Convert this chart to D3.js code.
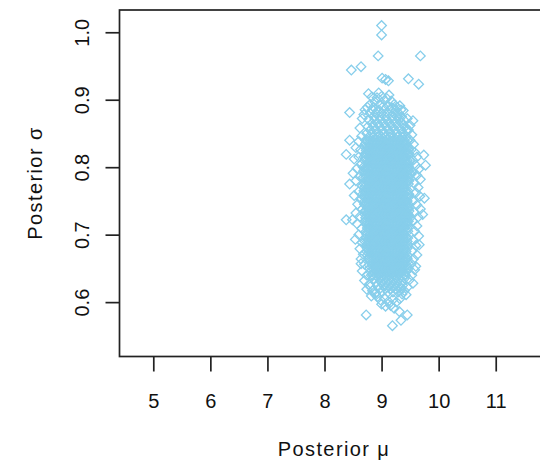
<!DOCTYPE html>
<html><head><meta charset="utf-8">
<script src="https://cdn.jsdelivr.net/npm/d3@7"></script>
<style>html,body{margin:0;padding:0;background:#fff;} svg{display:block;}</style>
</head><body>
<svg id="chart" width="540" height="462"></svg>
<script>
// ---- data ----
const xTicks = [5, 6, 7, 8, 9, 10, 11];
const yTicks = [0.6, 0.7, 0.8, 0.9, 1.0];
const xTitle = "Posterior μ";
const yTitle = "Posterior σ";

// dense core of posterior draws, read row by row (sigma level -> mu values)
const coreSigma = [0.885,0.880,0.875,0.870,0.865,0.860,0.855,0.850,0.845,0.840,0.835,0.830,0.825,0.820,0.815,0.810,0.805,0.800,0.795,0.790,0.785,0.780,0.775,0.770,0.765,0.760,0.755,0.750,0.745,0.740,0.735,0.730,0.725,0.720,0.715,0.710,0.705,0.700,0.695,0.690,0.685,0.680,0.675,0.670,0.665,0.660,0.655,0.650,0.645,0.640,0.635,0.630,0.625,0.620,0.615];
const coreMu = [
[8.84,8.95,9.05,9.16,9.25],
[8.80,8.90,9.00,9.11,9.21,9.30],
[8.86,8.96,9.06,9.17,9.27,9.35],
[8.78,8.88,8.99,9.10,9.20,9.31,9.39],
[8.83,8.93,9.04,9.14,9.25,9.35],
[8.76,8.86,8.97,9.08,9.19,9.29,9.41],
[8.80,8.90,9.01,9.12,9.23,9.34,9.44],
[8.74,8.84,8.94,9.05,9.16,9.27,9.38],
[8.78,8.86,8.93,9.00,9.07,9.14,9.21,9.29,9.36,9.44],
[8.72,8.75,8.80,8.85,8.90,8.95,9.00,9.05,9.10,9.15,9.20,9.25,9.30,9.35,9.40,9.45],
[8.72,8.78,8.83,8.88,8.93,8.98,9.03,9.08,9.13,9.18,9.23,9.28,9.33,9.38,9.43],
[8.71,8.75,8.80,8.85,8.90,8.95,9.00,9.05,9.10,9.15,9.20,9.25,9.30,9.35,9.40,9.46],
[8.73,8.78,8.83,8.88,8.93,8.98,9.03,9.08,9.13,9.18,9.23,9.28,9.33,9.38,9.43,9.47],
[8.71,8.75,8.80,8.85,8.90,8.95,9.00,9.05,9.10,9.15,9.20,9.25,9.30,9.35,9.40,9.45,9.48],
[8.69,8.72,8.77,8.82,8.87,8.92,8.97,9.02,9.07,9.12,9.17,9.22,9.27,9.32,9.37,9.42],
[8.70,8.75,8.80,8.85,8.90,8.95,9.00,9.05,9.10,9.15,9.20,9.25,9.30,9.35,9.40,9.45,9.49],
[8.78,8.83,8.88,8.93,8.98,9.03,9.08,9.13,9.18,9.23,9.28,9.33,9.38,9.43,9.47],
[8.68,8.72,8.76,8.80,8.85,8.90,8.95,9.00,9.05,9.10,9.15,9.20,9.25,9.30,9.35,9.40,9.45,9.48],
[8.69,8.73,8.78,8.83,8.88,8.93,8.98,9.03,9.08,9.13,9.18,9.23,9.28,9.33,9.38,9.43,9.47],
[8.70,8.75,8.80,8.85,8.90,8.95,9.00,9.05,9.10,9.15,9.20,9.25,9.30,9.35,9.40,9.45,9.49,9.52],
[8.68,8.72,8.77,8.82,8.87,8.92,8.97,9.02,9.07,9.12,9.17,9.22,9.27,9.32,9.37,9.42,9.47],
[8.75,8.80,8.85,8.90,8.95,9.00,9.05,9.10,9.15,9.20,9.25,9.30,9.35,9.40,9.45,9.48],
[8.69,8.73,8.78,8.83,8.88,8.93,8.98,9.03,9.08,9.13,9.18,9.23,9.28,9.33,9.38,9.43,9.47],
[8.70,8.75,8.80,8.85,8.90,8.95,9.00,9.05,9.10,9.15,9.20,9.25,9.30,9.35,9.40],
[8.69,8.72,8.77,8.82,8.87,8.92,8.97,9.02,9.07,9.12,9.17,9.22,9.27,9.32,9.37,9.42,9.46],
[8.67,8.71,8.75,8.80,8.85,8.90,8.95,9.00,9.05,9.10,9.15,9.20,9.25,9.30,9.35,9.40,9.45,9.48],
[8.70,8.73,8.78,8.83,8.88,8.93,8.98,9.03,9.08,9.13,9.18,9.23,9.28,9.33,9.38,9.43,9.47],
[8.71,8.75,8.80,8.85,8.90,8.95,9.00,9.05,9.10,9.15,9.20,9.25,9.30,9.35,9.40,9.45],
[8.70,8.72,8.77,8.82,8.87,8.92,8.97,9.02,9.07,9.12,9.17,9.22,9.27,9.32,9.37,9.42,9.47],
[8.75,8.80,8.85,8.90,8.95,9.00,9.05,9.10,9.15,9.20,9.25,9.30,9.35,9.40,9.45,9.47],
[8.71,8.73,8.78,8.83,8.88,8.93,8.98,9.03,9.08,9.13,9.18,9.23,9.28,9.33,9.38,9.43,9.48],
[8.71,8.75,8.80,8.85,8.90,8.95,9.00,9.05,9.10,9.15,9.20,9.25,9.30,9.35,9.40,9.45,9.47],
[8.72,8.77,8.82,8.87,8.92,8.97,9.02,9.07,9.12,9.17,9.22,9.27,9.32,9.37,9.42,9.46,9.50],
[8.72,8.75,8.80,8.85,8.90,8.95,9.00,9.05,9.10,9.15,9.20,9.25,9.30,9.35,9.40,9.44,9.47],
[8.73,8.78,8.83,8.88,8.93,8.98,9.03,9.08,9.13,9.18,9.23,9.28,9.33,9.38,9.43,9.46],
[8.75,8.80,8.85,8.90,8.95,9.00,9.05,9.10,9.15,9.20,9.25,9.30,9.35,9.40,9.45],
[8.73,8.77,8.82,8.87,8.92,8.97,9.02,9.07,9.12,9.17,9.22,9.27,9.32,9.37,9.42,9.46],
[8.74,8.80,8.85,8.90,8.95,9.00,9.05,9.10,9.15,9.20,9.25,9.30,9.35,9.40],
[8.73,8.78,8.83,8.88,8.93,8.98,9.03,9.08,9.13,9.18,9.23,9.28,9.33,9.38,9.43,9.46],
[8.71,8.75,8.80,8.85,8.90,8.95,9.00,9.05,9.10,9.15,9.20,9.25,9.30,9.35,9.40,9.45],
[8.74,8.77,8.82,8.87,8.92,8.97,9.02,9.07,9.12,9.17,9.22,9.27,9.32,9.37,9.42,9.46],
[8.75,8.80,8.85,8.90,8.95,9.00,9.05,9.10,9.15,9.20,9.25,9.30,9.35,9.40,9.45],
[8.74,8.78,8.83,8.88,8.93,8.98,9.03,9.08,9.13,9.18,9.23,9.28,9.33,9.38,9.43],
[8.75,8.80,8.85,8.90,8.95,9.00,9.05,9.10,9.15,9.20,9.25,9.30,9.35,9.40,9.45],
[8.77,8.82,8.87,8.92,8.97,9.02,9.07,9.12,9.17,9.22,9.27,9.32,9.37,9.42,9.45],
[8.80,8.85,8.90,8.95,9.00,9.05,9.10,9.15,9.20,9.25,9.30,9.35,9.40,9.45],
[8.78,8.83,8.88,8.93,8.98,9.03,9.08,9.13,9.18,9.23,9.28,9.33,9.38,9.44],
[8.79,8.85,8.90,8.95,9.00,9.05,9.10,9.15,9.20,9.25,9.30,9.35,9.40,9.44,9.47],
[8.81,8.87,8.92,8.97,9.02,9.07,9.12,9.17,9.22,9.27,9.32,9.37,9.43],
[8.82,8.85,8.90,8.95,9.00,9.05,9.10,9.15,9.20,9.25,9.30,9.35,9.40,9.42],
[8.86,8.95,9.04,9.13,9.22,9.31,9.40],
[8.90,8.99,9.08,9.17,9.26,9.35],
[8.93,9.03,9.12,9.21,9.30,9.37],
[8.97,9.07,9.16,9.25,9.34],
[9.01,9.11,9.20,9.29]
];

// scattered draws around the core and the outliers
const edgeMu = [
 9.00,9.00,8.94,9.68,8.47,8.64,9.01,9.07,9.12,9.47,9.65,8.44,8.71,9.34,9.55,
 8.77,8.83,9.13,8.95,8.88,8.92,9.00,9.05,9.09,9.17,9.22,9.27,9.32,8.80,8.86,8.97,9.03,9.11,9.18,8.75,9.38,8.69,
 8.66,8.62,8.65,8.60,8.63,8.55,8.52,8.60,8.64,8.57,8.50,8.62,8.55,8.66,8.60,8.52,8.64,8.58,8.66,8.55,8.62,8.57,8.65,8.60,8.54,8.66,8.62,8.68,8.64,8.70,8.66,8.74,8.70,8.78,8.74,8.84,8.80,8.88,
 8.38,8.44,8.44,8.38,8.49,8.64,
 9.45,9.50,9.47,9.53,9.50,9.56,9.52,9.58,9.62,9.55,9.60,9.65,9.54,9.62,9.68,9.57,9.64,9.60,9.67,9.55,9.62,9.68,9.58,9.64,9.55,9.62,9.58,9.65,9.55,9.60,9.54,9.62,9.56,9.52,9.58,9.53,9.49,9.55,9.45,9.40,9.36,
 9.74,9.77,9.75,9.72,9.66,9.60,
 8.93,8.98,9.05,9.12,9.20,9.26,9.32,9.00,9.16,9.22,8.90,
 8.73,9.19,9.34,9.45,9.07,9.31,8.82,9.43
];
const edgeSigma = [
 1.010,0.996,0.965,0.965,0.944,0.949,0.932,0.930,0.928,0.931,0.923,0.881,0.885,0.885,0.869,
 0.909,0.904,0.907,0.910,0.897,0.903,0.905,0.899,0.902,0.898,0.893,0.889,0.891,0.893,0.889,0.893,0.890,0.891,0.888,0.889,0.884,0.878,
 0.872,0.858,0.846,0.838,0.826,0.829,0.812,0.815,0.804,0.798,0.791,0.786,0.780,0.772,0.764,0.758,0.752,0.745,0.738,0.732,0.727,0.716,0.709,0.700,0.693,0.688,0.679,0.671,0.664,0.656,0.646,0.640,0.632,0.626,0.619,0.617,0.623,0.612,
 0.819,0.840,0.775,0.722,0.722,0.657,
 0.872,0.862,0.855,0.848,0.840,0.834,0.826,0.822,0.815,0.810,0.803,0.797,0.793,0.788,0.782,0.776,0.770,0.762,0.757,0.750,0.744,0.738,0.733,0.726,0.720,0.713,0.705,0.698,0.692,0.684,0.676,0.670,0.664,0.657,0.648,0.640,0.633,0.628,0.622,0.617,0.612,
 0.818,0.803,0.754,0.730,0.685,0.653,
 0.608,0.603,0.606,0.601,0.604,0.600,0.605,0.597,0.595,0.591,0.614,
 0.581,0.565,0.573,0.581,0.594,0.586,0.609,0.611
];

// ---- drawing ----
const plot = {left: 119.5, right: 548, top: 10, bottom: 356.5};
const x = d3.scaleLinear().domain([4.408, 11.916]).range([plot.left, plot.right]);
const y = d3.scaleLinear().domain([0.5194, 1.033]).range([plot.bottom, plot.top]);
const svg = d3.select("#chart");
const font = "'Liberation Sans', Arial, Helvetica, sans-serif";
const ink = "#111";

const pts = [];
coreSigma.forEach((s, i) => coreMu[i].forEach(m => pts.push([m, s])));
edgeMu.forEach((m, i) => pts.push([m, edgeSigma[i]]));

const diamond = d3.symbol(d3.symbolSquare, 46)();
svg.append("g").selectAll("path").data(pts).join("path")
  .attr("d", diamond)
  .attr("transform", d => `translate(${x(d[0])},${y(d[1])}) rotate(45)`)
  .attr("fill", "none")
  .attr("stroke", "#87CEEB")
  .attr("stroke-width", 1.3);

svg.append("rect")
  .attr("x", plot.left).attr("y", plot.top)
  .attr("width", plot.right - plot.left).attr("height", plot.bottom - plot.top)
  .attr("fill", "none").attr("stroke", "#222").attr("stroke-width", 1.7);

const xAxis = svg.append("g")
  .attr("transform", `translate(0,${plot.bottom})`)
  .call(d3.axisBottom(x).tickValues(xTicks).tickSize(15).tickFormat(d3.format("d")));
xAxis.select(".domain").remove();
xAxis.attr("font-size", 20).attr("font-family", font);
xAxis.selectAll("line").attr("stroke", "#222").attr("stroke-width", 1.7);
xAxis.selectAll("text").attr("y", 51.5).attr("dy", null).attr("fill", ink);

const yAxis = svg.append("g")
  .attr("transform", `translate(${plot.left},0)`)
  .call(d3.axisLeft(y).tickValues(yTicks).tickSize(14).tickFormat(d3.format(".1f")));
yAxis.select(".domain").remove();
yAxis.attr("font-size", 20).attr("font-family", font);
yAxis.selectAll("line").attr("stroke", "#222").attr("stroke-width", 1.7);
yAxis.selectAll("text")
  .attr("x", null).attr("dy", null)
  .attr("text-anchor", "middle")
  .attr("transform", "translate(-30.5,0) rotate(-90)")
  .attr("fill", ink);

svg.append("text")
  .attr("x", 334).attr("y", 456)
  .attr("text-anchor", "middle")
  .attr("font-family", font).attr("font-size", 20)
  .attr("letter-spacing", 1.4)
  .attr("fill", ink)
  .text(xTitle);

svg.append("text")
  .attr("transform", `translate(41.5,183) rotate(-90)`)
  .attr("text-anchor", "middle")
  .attr("font-family", font).attr("font-size", 20)
  .attr("letter-spacing", 1.4)
  .attr("fill", ink)
  .text(yTitle);
</script>
</body></html>
